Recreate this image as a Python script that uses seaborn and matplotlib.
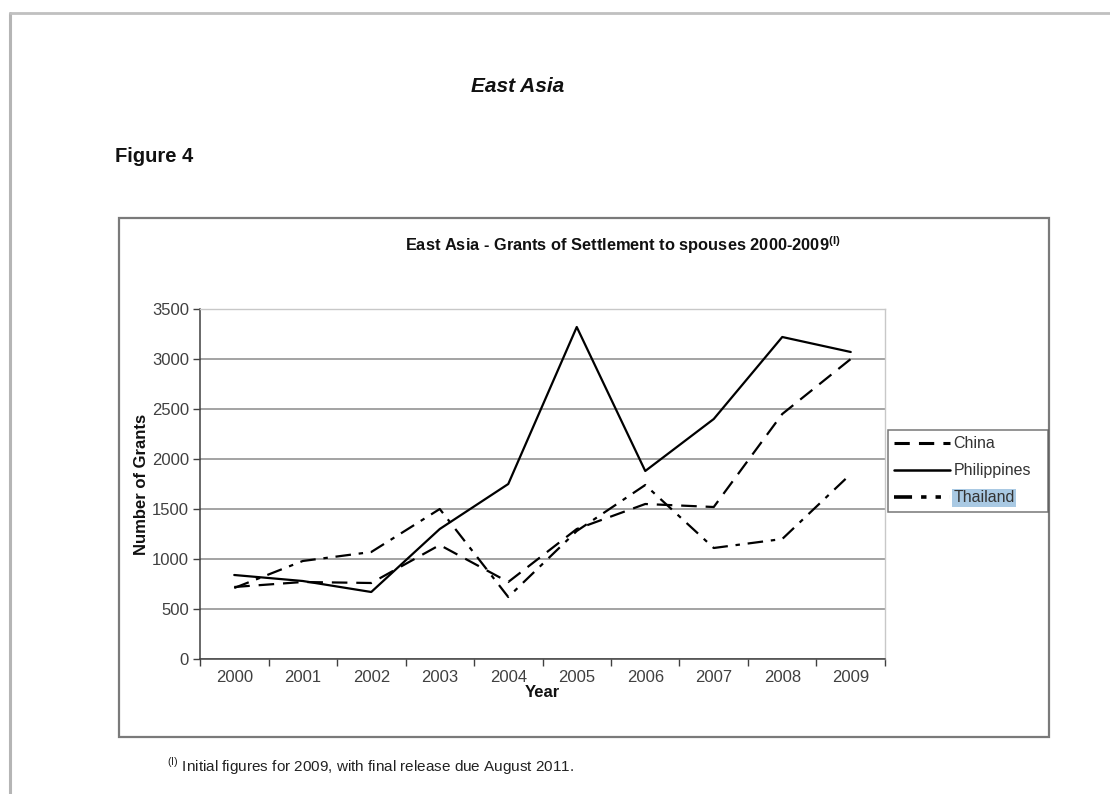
import matplotlib
matplotlib.use("Agg")
import matplotlib.pyplot as plt
import seaborn as sns
import pandas as pd
import numpy as np
from matplotlib.lines import Line2D
from matplotlib.patches import Rectangle

years = ["2000", "2001", "2002", "2003", "2004", "2005", "2006", "2007", "2008", "2009"]
china = [720, 770, 760, 1140, 770, 1300, 1550, 1520, 2450, 3000]
philippines = [840, 780, 670, 1300, 1750, 3320, 1880, 2400, 3220, 3070]
thailand = [710, 980, 1070, 1500, 620, 1280, 1740, 1110, 1200, 1850]
series_names = ["China", "Philippines", "Thailand"]
y_ticks = [0, 500, 1000, 1500, 2000, 2500, 3000, 3500]

sns.set_theme(style="white")
plt.rcParams["font.family"] = ["Liberation Sans", "DejaVu Sans"]
plt.rcParams["mathtext.fontset"] = "custom"
plt.rcParams["mathtext.rm"] = "Liberation Sans"

W, H = 1110, 794
fig = plt.figure(figsize=(W / 100, H / 100), dpi=100)
fig.patch.set_facecolor("white")

def fx(px):
    return px / W

def fy(py):
    return 1 - py / H

# page border
fig.add_artist(Line2D([fx(10), fx(10)], [fy(13), 0], color="#b5b5b5", lw=2.2, transform=fig.transFigure))
fig.add_artist(Line2D([fx(10), 1], [fy(13), fy(13)], color="#c0c0c0", lw=2.0, transform=fig.transFigure))

# chart frame
fig.add_artist(Rectangle((fx(119), fy(737)), fx(1049) - fx(119), fy(218) - fy(737),
                         fill=False, edgecolor="#7a7a7a", lw=1.6, transform=fig.transFigure))

# page texts
fig.text(fx(518), fy(87), "East Asia", fontsize=15, fontweight="bold", fontstyle="italic",
         ha="center", va="center", color="#111111")
fig.text(fx(115), fy(157), "Figure 4", fontsize=14.5, fontweight="bold", ha="left", va="center", color="#111111")
fig.text(fx(167), fy(766), r"$^{\mathregular{(I)}}$ Initial figures for 2009, with final release due August 2011.",
         fontsize=11, ha="left", va="center", color="#222222")

ax = fig.add_axes([fx(200), fy(659), fx(885) - fx(200), fy(309) - fy(659)])

df = pd.DataFrame({
    "Year": list(range(len(years))) * 3,
    "Grants": china + philippines + thailand,
    "Country": [s for s in series_names for _ in years],
})
dash_map = {"China": (7, 4), "Philippines": "", "Thailand": (7, 3.5, 2, 3.5)}
sns.lineplot(data=df, x="Year", y="Grants", hue="Country", style="Country",
             palette={n: "black" for n in series_names}, dashes=dash_map,
             lw=1.6, ax=ax, legend=False, markers=False)

ax.set_xlim(-0.5, len(years) - 0.5)
ax.set_ylim(0, 3500)
ax.set_yticks(y_ticks)
ax.set_yticklabels([str(v) for v in y_ticks], fontsize=12, color="#404040")
ax.set_xticks(range(len(years)))
ax.set_xticklabels(years, fontsize=12, color="#404040")
ax.set_xticks(np.arange(-0.5, len(years), 1.0), minor=True)
ax.tick_params(axis="x", which="major", length=0, pad=8)
ax.tick_params(axis="x", which="minor", length=5, direction="out", color="#404040", width=1, bottom=True)
ax.tick_params(axis="y", which="major", length=5, direction="out", color="#404040", width=1, left=True, pad=3)
ax.grid(axis="y", color="#8a8a8a", lw=1.1)
ax.grid(axis="x", visible=False)
ax.set_axisbelow(True)
for s in ["top", "right"]:
    ax.spines[s].set_color("#c8c8c8")
    ax.spines[s].set_linewidth(1.0)
for s in ["left", "bottom"]:
    ax.spines[s].set_color("#404040")
    ax.spines[s].set_linewidth(1.1)

ax.set_xlabel("Year", fontsize=12, fontweight="bold", color="#111111", labelpad=0)
ax.set_ylabel("Number of Grants", fontsize=12, fontweight="bold", color="#111111", labelpad=2)

fig.text(fx(623), fy(245), r"East Asia - Grants of Settlement to spouses 2000-2009$^{\mathregular{(I)}}$",
         fontsize=11.8, fontweight="bold", ha="center", va="center", color="#111111")

handles = [Line2D([], [], color="black", lw=2.2, dashes=(5, 3)),
           Line2D([], [], color="black", lw=1.8),
           Line2D([], [], color="black", lw=2.6, dashes=(5, 2.5, 1.5, 2.5, 1.5, 2.5))]
leg = fig.legend(handles, series_names, loc="upper left",
                 bbox_to_anchor=(fx(888), fy(516), fx(1048) - fx(888), fy(430) - fy(516)),
                 mode="expand", borderaxespad=0, fontsize=11.5, handlelength=3.5,
                 handletextpad=0.2, labelspacing=0.75, borderpad=0.4, frameon=True,
                 fancybox=False)
leg.get_frame().set_edgecolor("#555555")
leg.get_frame().set_linewidth(1.1)
for t in leg.get_texts():
    t.set_color("#333333")
leg.get_texts()[2].set_bbox(dict(facecolor="#a9c9e3", edgecolor="none", pad=1))

fig.savefig("out.png", dpi=100, facecolor="white")
